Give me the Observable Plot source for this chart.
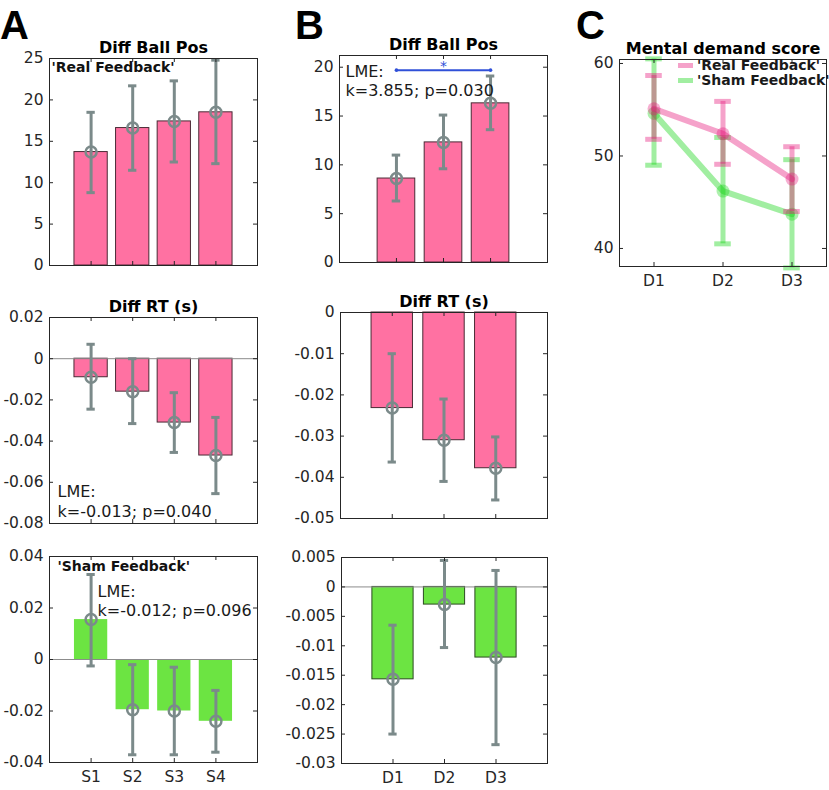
<!DOCTYPE html>
<html><head><meta charset="utf-8">
<script src="https://cdn.jsdelivr.net/npm/d3@7"></script>
<script src="https://cdn.jsdelivr.net/npm/@observablehq/plot@0.6"></script>
<style>
body{margin:0;background:#fff;width:829px;height:790px;overflow:hidden;position:relative;font-family:"DejaVu Sans",sans-serif;}
.panel{position:absolute;}
.letter{position:absolute;font-family:"Liberation Sans",Arial,sans-serif;font-weight:bold;font-size:40px;line-height:1;color:#000;}
.legend{position:absolute;font-family:"DejaVu Sans",sans-serif;font-weight:bold;font-size:14px;color:#1a1a1a;line-height:15px;}
.legend div{display:flex;align-items:center;white-space:nowrap;}
.legend span.sw{display:inline-block;width:15px;height:5px;margin-right:4px;}
</style></head><body>
<script>
// ---------- data ----------
const sessions = ["S1", "S2", "S3", "S4"];
const days = ["D1", "D2", "D3"];

// Panel A (sessions)
const aBallTitle = "Diff Ball Pos";
const aBallMean = [13.7, 16.6, 17.4, 18.5];
const aBallLo   = [8.8, 11.5, 12.5, 12.3];
const aBallHi   = [18.5, 21.7, 22.3, 24.8];
const aBallTicks = [0, 5, 10, 15, 20, 25];

const aRtTitle = "Diff RT (s)";
const aRtMean = [-0.009, -0.016, -0.031, -0.047];
const aRtLo   = [-0.0245, -0.0315, -0.0455, -0.0655];
const aRtHi   = [0.007, 0.0, -0.0165, -0.0285];
const aRtTicks = [-0.08, -0.06, -0.04, -0.02, 0, 0.02];
const aRtStat = "LME:\nk=-0.013; p=0.040";

const aShamMean = [0.0155, -0.0195, -0.020, -0.024];
const aShamLo   = [-0.0025, -0.037, -0.037, -0.036];
const aShamHi   = [0.033, -0.002, -0.003, -0.012];
const aShamTicks = [-0.04, -0.02, 0, 0.02, 0.04];
const aShamStat = "LME:\nk=-0.012; p=0.096";

const realLabel = "'Real Feedback'";
const shamLabel = "'Sham Feedback'";

// Panel B (days)
const bBallMean = [8.6, 12.3, 16.3];
const bBallLo   = [6.3, 9.6, 13.6];
const bBallHi   = [11.0, 15.1, 19.1];
const bBallTicks = [0, 5, 10, 15, 20];
const bBallStat = "LME:\nk=3.855; p=0.030";
const bSigPair = [1, 3];
const bSigLevel = [19.7];
const bSigMark = "*";

const bRtMean = [-0.0232, -0.031, -0.0378];
const bRtLo   = [-0.0363, -0.041, -0.0455];
const bRtHi   = [-0.010, -0.021, -0.0302];
const bRtTicks = [-0.05, -0.04, -0.03, -0.02, -0.01, 0];

const bShamMean = [-0.0157, -0.003, -0.012];
const bShamLo   = [-0.025, -0.0103, -0.0268];
const bShamHi   = [-0.0065, 0.0045, 0.0028];
const bShamTicks = [-0.03, -0.025, -0.02, -0.015, -0.01, -0.005, 0, 0.005];

// Panel C
const cTitle = "Mental demand score";
const cRealMean = [55.1, 52.4, 47.5];
const cRealLo   = [51.8, 49.1, 44.0];
const cRealHi   = [58.7, 55.9, 51.0];
const cShamMean = [54.6, 46.2, 43.7];
const cShamLo   = [49.0, 40.5, 37.9];
const cShamHi   = [60.5, 52.0, 49.6];
const cTicks = [40, 50, 60];

// ---------- styles ----------
const PINK = "#ff71a2", PINK_EDGE = "#4a2a35";
const GREEN = "#6ce442", GREEN_EDGE = "#2c4a22";
const GRAY = "#7b8a8a";
const AX = "#262626";
const C_PINK = "#e6177a", C_GREEN = "#14d414";

function rows(labels, mean, lo, hi) {
  return labels.map((l, k) => ({i: k + 1, label: l, mean: mean[k], lo: lo[k], hi: hi[k]}));
}

const ML = 60, MT = 30, MB = 32;
function panel({left, top, width, height, xDomain, yDomain, yTicks, xTicks, xLabels, marks, title, mr = 4}) {
  const all = [
    ...marks,
    Plot.axisY(yTicks, {tickSize: 0, tickPadding: 6, tickFormat: d => String(d), fontSize: 15.5, label: null}),
    Plot.tickY(yTicks, {y: d => d, insetRight: width - 4, stroke: AX}),
    Plot.tickY(yTicks, {y: d => d, insetLeft: width - 4, stroke: AX}),
    Plot.tickX(xTicks, {x: d => d, insetTop: height - 4, stroke: AX}),
    Plot.tickX(xTicks, {x: d => d, insetBottom: height - 4, stroke: AX}),
    Plot.frame({stroke: AX, strokeWidth: 1})
  ];
  if (xLabels) all.push(Plot.axisX(xTicks, {tickSize: 0, tickPadding: 8, tickFormat: d => xLabels[d - 1], fontSize: 15.5, label: null}));
  if (title) all.push(Plot.text([title], {frameAnchor: "top", lineAnchor: "bottom", dy: -6, fontWeight: "bold", fontSize: 16, fill: "#000"}));
  const chart = Plot.plot({
    width: width + ML + mr, height: height + MT + MB,
    marginLeft: ML, marginTop: MT, marginRight: mr, marginBottom: MB,
    x: {type: "linear", domain: xDomain, axis: xLabels ? undefined : null, label: null},
    y: {type: "linear", domain: yDomain, label: null},
    style: {fontFamily: '"DejaVu Sans", sans-serif', fontSize: "15.5px", color: AX, background: "transparent", overflow: "visible"},
    marks: all
  });
  const div = document.createElement("div");
  div.className = "panel";
  div.style.left = (left - ML) + "px";
  div.style.top = (top - MT) + "px";
  div.appendChild(chart);
  document.body.appendChild(div);
}

function barMarks(data, {fill, edge, half = 0.4, cap = 0.1, zero = false}) {
  const m = [
    Plot.rect(data, {x1: d => d.i - half, x2: d => d.i + half, y1: () => 0, y2: "mean", fill, stroke: edge || "none", strokeWidth: 1})
  ];
  if (zero) m.push(Plot.ruleY([0], {stroke: "#8c8c8c", strokeWidth: 1}));
  m.push(
    Plot.ruleX(data, {x: "i", y1: "lo", y2: "hi", stroke: GRAY, strokeWidth: 3}),
    Plot.ruleY(data, {y: "lo", x1: d => d.i - cap, x2: d => d.i + cap, stroke: GRAY, strokeWidth: 3}),
    Plot.ruleY(data, {y: "hi", x1: d => d.i - cap, x2: d => d.i + cap, stroke: GRAY, strokeWidth: 3}),
    Plot.dot(data, {x: "i", y: "mean", r: 5.5, stroke: GRAY, strokeWidth: 2.5, fill: "none"})
  );
  return m;
}

function note(text, dx, dy, opts = {}) {
  return Plot.text([text], {frameAnchor: "top-left", textAnchor: "start", lineAnchor: "top", dx, dy, fontSize: 16, lineHeight: 1.2, fill: "#1a1a1a", ...opts});
}

// ---------- Panel A ----------
panel({
  left: 49, top: 58, width: 208, height: 207,
  xDomain: [0, 5], yDomain: [0, 25], yTicks: aBallTicks, xTicks: [1, 2, 3, 4],
  title: aBallTitle,
  marks: [
    ...barMarks(rows(sessions, aBallMean, aBallLo, aBallHi), {fill: PINK, edge: PINK_EDGE}),
    note(realLabel, 2, 2, {fontWeight: "bold", fontSize: 14, fill: "#111"})
  ]
});
panel({
  left: 49, top: 317, width: 208, height: 206,
  xDomain: [0, 5], yDomain: [-0.08, 0.02], yTicks: aRtTicks, xTicks: [1, 2, 3, 4],
  title: aRtTitle,
  marks: [
    ...barMarks(rows(sessions, aRtMean, aRtLo, aRtHi), {fill: PINK, edge: PINK_EDGE, zero: true}),
    Plot.text([aRtStat], {frameAnchor: "bottom-left", textAnchor: "start", lineAnchor: "bottom", dx: 8, dy: -7, fontSize: 16, lineHeight: 1.2, fill: "#1a1a1a"})
  ]
});
panel({
  left: 49, top: 556, width: 208, height: 206,
  xDomain: [0, 5], yDomain: [-0.04, 0.04], yTicks: aShamTicks, xTicks: [1, 2, 3, 4], xLabels: sessions,
  marks: [
    ...barMarks(rows(sessions, aShamMean, aShamLo, aShamHi), {fill: GREEN, edge: null, zero: true}),
    note(shamLabel, 8, 3, {fontWeight: "bold", fontSize: 14, fill: "#111"}),
    note(aShamStat, 48, 27)
  ]
});

// ---------- Panel B ----------
panel({
  left: 339, top: 55, width: 208, height: 207,
  xDomain: [-0.21, 4.21], yDomain: [0, 21.2], yTicks: bBallTicks, xTicks: [1, 2, 3],
  title: aBallTitle,
  marks: [
    ...barMarks(rows(days, bBallMean, bBallLo, bBallHi), {fill: PINK, edge: PINK_EDGE, cap: 0.09}),
    Plot.ruleY(bSigLevel, {x1: () => bSigPair[0], x2: () => bSigPair[1], stroke: "#3050d8", strokeWidth: 2}),
    Plot.dot(bSigPair, {x: d => d, y: () => bSigLevel[0], r: 1.8, fill: "#3050d8"}),
    Plot.text(bSigLevel, {x: () => (bSigPair[0] + bSigPair[1]) / 2, y: d => d, text: () => bSigMark, fill: "#3050d8", fontSize: 14, dy: -4}),
    note(bBallStat, 6, 8)
  ]
});
panel({
  left: 340, top: 312, width: 207, height: 206,
  xDomain: [0, 4], yDomain: [-0.05, 0], yTicks: bRtTicks, xTicks: [1, 2, 3],
  title: aRtTitle,
  marks: [
    ...barMarks(rows(days, bRtMean, bRtLo, bRtHi), {fill: PINK, edge: PINK_EDGE, cap: 0.08})
  ]
});
panel({
  left: 341, top: 557, width: 206, height: 206,
  xDomain: [0, 4], yDomain: [-0.03, 0.005], yTicks: bShamTicks, xTicks: [1, 2, 3], xLabels: days,
  marks: [
    ...barMarks(rows(days, bShamMean, bShamLo, bShamHi), {fill: GREEN, edge: GREEN_EDGE, cap: 0.08, zero: true})
  ]
});

// ---------- Panel C ----------
function lineMarks(data, color) {
  const o = {stroke: color, strokeOpacity: 0.4};
  const cap = 0.12;
  return [
    Plot.ruleX(data, {x: "i", y1: "lo", y2: "hi", strokeWidth: 5, ...o}),
    Plot.ruleY(data, {y: "lo", x1: d => d.i - cap, x2: d => d.i + cap, strokeWidth: 5, ...o}),
    Plot.ruleY(data, {y: "hi", x1: d => d.i - cap, x2: d => d.i + cap, strokeWidth: 5, ...o}),
    Plot.line(data, {x: "i", y: "mean", strokeWidth: 6, ...o}),
    Plot.dot(data, {x: "i", y: "mean", r: 6.5, fill: color, fillOpacity: 0.35, stroke: "none"})
  ];
}
panel({
  left: 619, top: 59, width: 207, height: 207, mr: 3,
  xDomain: [0.5, 3.5], yDomain: [38.05, 60.43], yTicks: cTicks, xTicks: [1, 2, 3], xLabels: days,
  title: cTitle,
  marks: [
    ...lineMarks(rows(days, cShamMean, cShamLo, cShamHi), C_GREEN),
    ...lineMarks(rows(days, cRealMean, cRealLo, cRealHi), C_PINK)
  ]
});

// legend for panel C
const lg = document.createElement("div");
lg.className = "legend";
lg.style.left = "678px"; lg.style.top = "58px";
[[realLabel, C_PINK], [shamLabel, C_GREEN]].forEach(([t, c]) => {
  const r = document.createElement("div");
  const sw = document.createElement("span");
  sw.className = "sw"; sw.style.background = c; sw.style.opacity = 0.4;
  r.appendChild(sw);
  r.appendChild(document.createTextNode(t));
  lg.appendChild(r);
});
document.body.appendChild(lg);

// panel letters
[["A", 0, 5], ["B", 295, 5], ["C", 576, 5]].forEach(([t, x, y]) => {
  const d = document.createElement("div");
  d.className = "letter"; d.textContent = t;
  d.style.left = x + "px"; d.style.top = y + "px";
  document.body.appendChild(d);
});
</script>
</body></html>
